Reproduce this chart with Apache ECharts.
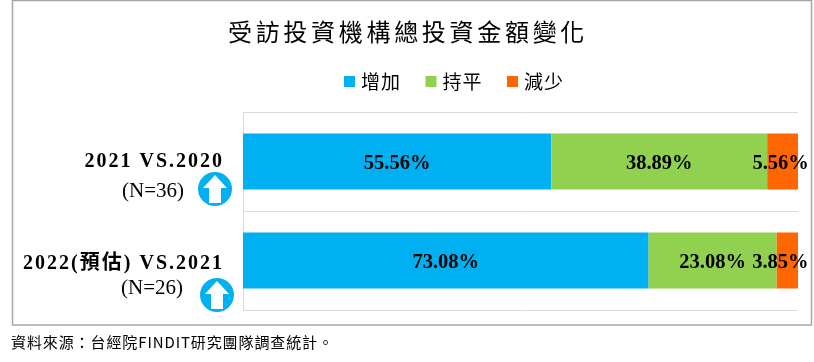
<!DOCTYPE html>
<html><head><meta charset="utf-8">
<style>html,body{margin:0;padding:0;background:#fff}#c{width:814px;height:362px}</style>
<script src="https://cdn.jsdelivr.net/npm/echarts@6/dist/echarts.min.js"></script>
</head><body><div id="c"></div>
<script>
const chartTitle = '受訪投資機構總投資金額變化';
const sourceNote = '資料來源：台經院FINDIT研究團隊調查統計。';
const categories = ['2021 VS.2020', '2022(預估) VS.2021'];
const sampleSizes = ['(N=36)', '(N=26)'];
const seriesNames = ['增加', '持平', '減少'];
const increase = [55.56, 73.08];
const flat = [38.89, 23.08];
const decrease = [5.56, 3.85];
const seriesColors = ['#00B0F0', '#92D050', '#FF6600'];

// Canvas letter-spacing per text run (ECharts has no such text option)
const spacing = {};
spacing[chartTitle] = '3.7px';
spacing[sourceNote] = '0.9px';
categories.forEach(c => spacing[c] = '2px');
seriesNames.forEach(c => spacing[c] = '1px');
const rawFill = CanvasRenderingContext2D.prototype.fillText;
CanvasRenderingContext2D.prototype.fillText = function (t, x, y, m) {
  this.letterSpacing = spacing[t] || '0px';
  return m === undefined ? rawFill.call(this, t, x, y) : rawFill.call(this, t, x, y, m);
};

const serif = '"Liberation Serif","Noto Sans CJK TC",serif';
const cjk = '"Noto Sans CJK TC",sans-serif';
const chart = echarts.init(document.getElementById('c'), null, {renderer: 'canvas'});

const labelStyle = {show: true, position: 'inside', color: '#000', fontFamily: serif, fontWeight: 'bold', fontSize: 20.5, formatter: p => p.value.toFixed(2) + '%'};
const values = [increase, flat, decrease];
const series = seriesNames.map((name, i) => ({
  name, type: 'bar', stack: 'total', barWidth: 56,
  itemStyle: {color: seriesColors[i]},
  label: labelStyle,
  labelLayout: p => ({dy: 2, dx: i === 2 ? (p.dataIndex === 0 ? -2 : -7) : 0}),
  data: values[i]
}));

const arrow = (cx, cy) => ({
  type: 'group', x: cx, y: cy, children: [
    {type: 'circle', shape: {cx: 0, cy: 0, r: 17}, style: {fill: '#00B0F0'}},
    {type: 'polygon', shape: {points: [[0,-14],[12,-1],[6,-1],[6,14],[-6,14],[-6,-1],[-12,-1]]}, style: {fill: '#fff'}}
  ]
});
const graphic = [
  {type: 'rect', z: -10, shape: {x: 12.5, y: 0.5, width: 799, height: 324.5}, style: {fill: '#fff', stroke: '#a6a6a6', lineWidth: 1.5}},
  {type: 'text', x: 184, y: 191, style: {text: sampleSizes[0], font: '21px ' + serif, fill: '#000', textAlign: 'right', textVerticalAlign: 'middle'}},
  {type: 'text', x: 183, y: 288, style: {text: sampleSizes[1], font: '21px ' + serif, fill: '#000', textAlign: 'right', textVerticalAlign: 'middle'}},
  arrow(215, 189), arrow(217, 295),
  {type: 'text', x: 11, y: 342, style: {text: sourceNote, font: '15px ' + cjk, fill: '#000', textAlign: 'left', textVerticalAlign: 'middle'}}
];

chart.setOption({
  animation: false,
  backgroundColor: '#fff',
  title: {text: chartTitle, left: 403, top: 15, textAlign: 'center', textStyle: {fontFamily: cjk, fontWeight: 'normal', fontSize: 24, color: '#000'}},
  legend: {left: 339, top: 67, icon: 'rect', itemWidth: 11, itemHeight: 11, itemGap: 26.5, selectedMode: false, data: seriesNames, textStyle: {fontFamily: cjk, fontSize: 19, color: '#000', padding: [6, 0, 0, 1]}},
  grid: {left: 243, right: 16, top: 112, height: 198, containLabel: false},
  xAxis: {type: 'value', min: 0, max: 100, show: false},
  yAxis: {
    type: 'category', inverse: true, data: categories,
    axisTick: {show: false},
    axisLine: {show: true, lineStyle: {color: '#d9d9d9', width: 1}},
    splitLine: {show: true, lineStyle: {color: '#d9d9d9', width: 1}},
    axisLabel: {margin: 19, color: '#000', fontFamily: serif, fontWeight: 'bold', fontSize: 20,
      formatter: (v, i) => i === 0 ? '{a|' + v + '}' : '{b|' + v + '}',
      rich: {a: {fontFamily: serif, fontWeight: 'bold', fontSize: 20, color: '#000'},
             b: {fontFamily: serif, fontWeight: 'bold', fontSize: 20, color: '#000', padding: [7, 0, 0, 0]}}}
  },
  series, graphic
});
</script></body></html>
